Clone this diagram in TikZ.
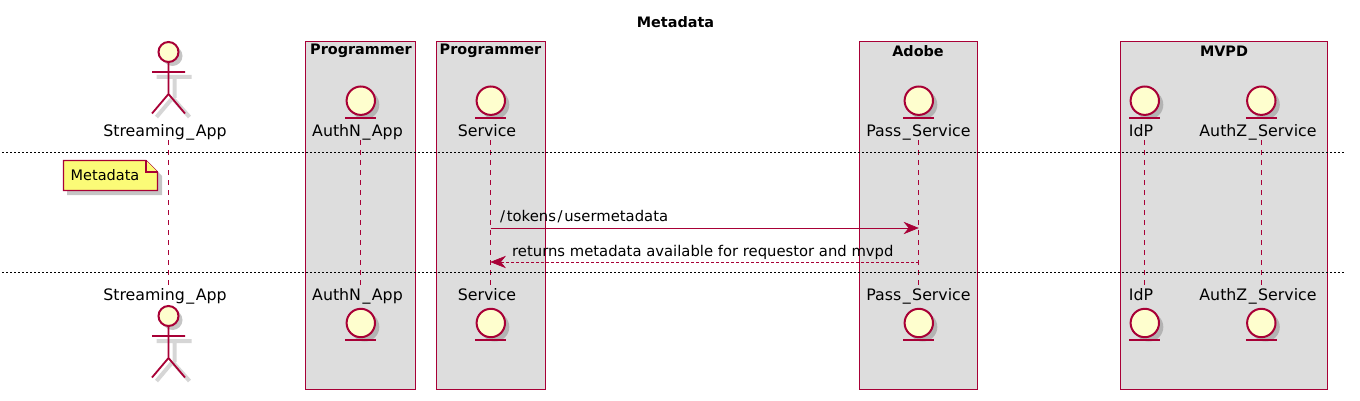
\documentclass[tikz,border=0pt]{standalone}
\usepackage{fontspec}
\setmainfont{DejaVu Sans}
\usetikzlibrary{arrows.meta}
\definecolor{pline}{HTML}{A80036}
\definecolor{pfill}{HTML}{FEFECE}
\definecolor{pbox}{HTML}{DDDDDD}
\definecolor{pnote}{HTML}{FBFB77}
\newcommand{\us}{\kern1.5pt\_\kern1.5pt}
\tikzset{
  x=1pt,y=-1pt,
  grp/.style={draw=pline,fill=pbox,line width=1pt},
  life/.style={draw=pline,line width=1pt,dash pattern=on 5pt off 5pt},
  sep/.style={draw=black,line width=1pt,dash pattern=on 2pt off 2pt},
  pshape/.style={draw=pline,line width=1.8pt},
  pcirc/.style={draw=pline,fill=pfill,line width=2pt},
  shade/.style={draw=black!45,opacity=0.35,line width=4pt},
  shadefill/.style={fill=black!50,opacity=0.45},
  lbl/.style={inner sep=0pt,font=\fontsize{15.8}{18}\selectfont,text=black},
  ttl/.style={inner sep=0pt,font=\fontsize{14.4}{16}\selectfont\bfseries,text=black},
  notelbl/.style={inner sep=0pt,font=\fontsize{14.5}{16}\selectfont,text=black},
  msg/.style={inner sep=0pt,anchor=base west,font=\fontsize{14.8}{16}\selectfont,text=black},
  arrowline/.style={draw=pline,line width=1pt},
  tip/.style={fill=pline,draw=pline,line width=0.6pt},
}
\newcommand{\entityshape}[3]{% x, circle y, underline y
  \fill[shadefill] (#1+4,#2+4) circle[radius=14.5];
  \draw[pcirc] (#1,#2) circle[radius=14.2];
  \draw[draw=pline,line width=2pt] (#1-15.5,#3) -- (#1+15.5,#3);
}
\newcommand{\actorshape}[2]{% x, head y
  \begin{scope}[shift={(#1,#2)}]
  \draw[shade,line cap=butt] (6,24) -- (6,46) (-12,25) -- (23,25) (4,46) -- (-12,65) (4,46) -- (21,65);
  \fill[shadefill] (4,4) circle[radius=10];
  \draw[pcirc] (0,0) circle[radius=10];
  \draw[pshape] (0,10) -- (0,42) (-16.5,20) -- (16.5,20) (0,42) -- (-16.5,61.5) (0,42) -- (16.5,61.5);
  \end{scope}
}
\begin{document}
\begin{tikzpicture}
\useasboundingbox (0,0) rectangle (1360,401);
\fill[white] (0,0) rectangle (1360,401);
\node[ttl] (title) at (675.5,22) {Metadata};

\draw[grp] (305.5,41.5) rectangle (415.5,389) ;
\draw[grp] (436.5,41.5) rectangle (545,389);
\draw[grp] (859,41.5) rectangle (977,389);
\draw[grp] (1120.5,41.5) rectangle (1327,389);
\node[ttl] (g1) at (361,51) {Programmer};
\node[ttl] (g2) at (490.5,51) {Programmer};
\node[ttl] (g3) at (918,51) {Adobe};
\node[ttl] (g4) at (1224,51) {MVPD};

\node[lbl] (a1) at (165,133) {\strut Streaming\us App};
\node[lbl] (a2) at (357.5,133) {\strut AuthN\us App};
\node[lbl] (a3) at (487,133) {\strut Service};
\node[lbl] (a4) at (918.5,133) {\strut Pass\us Service};
\node[lbl] (a5) at (1141,133) {\strut IdP};
\node[lbl] (a6) at (1258,133) {\strut AuthZ\us Service};
\node[lbl] (b1) at (165,297) {\strut Streaming\us App};
\node[lbl] (b2) at (357.5,297) {\strut AuthN\us App};
\node[lbl] (b3) at (487,297) {\strut Service};
\node[lbl] (b4) at (918.5,297) {\strut Pass\us Service};
\node[lbl] (b5) at (1141,297) {\strut IdP};
\node[lbl] (b6) at (1258,297) {\strut AuthZ\us Service};

\coordinate (t1) at (168.5,140); \coordinate (e1) at (168.5,285);
\coordinate (t2) at (360.5,140); \coordinate (e2) at (360.5,285);
\coordinate (t3) at (490.5,140); \coordinate (e3) at (490.5,285);
\coordinate (t4) at (918.5,140); \coordinate (e4) at (918.5,285);
\coordinate (t5) at (1144.5,140); \coordinate (e5) at (1144.5,285);
\coordinate (t6) at (1261,140); \coordinate (e6) at (1261,285);
\foreach \i in {1,...,6} {\draw[life] (t\i) -- (e\i);}

\actorshape{168.5}{52}
\actorshape{168.5}{316}
\entityshape{360.8}{100.7}{118.3}
\entityshape{490.8}{100.7}{118.3}
\entityshape{918.8}{100.7}{118.3}
\entityshape{1144.8}{100.7}{118.3}
\entityshape{1261.3}{100.7}{118.3}
\entityshape{360.8}{323}{340}
\entityshape{490.8}{323}{340}
\entityshape{918.8}{323}{340}
\entityshape{1144.8}{323}{340}
\entityshape{1261.3}{323}{340}

\coordinate (s1) at (2,153); \coordinate (s2) at (1345,153);
\coordinate (s3) at (2,272); \coordinate (s4) at (1345,272);
\draw[sep] (s1) -- (s2);
\draw[sep] (s3) -- (s4);

% note
\fill[black!50,opacity=0.45] (67,164) -- (150,164) -- (162,176) -- (162,195) -- (67,195) -- cycle;
\draw[draw=pline,fill=pnote,line width=1.2pt] (63.5,160.5) -- (146,160.5) -- (157.5,172) -- (157.5,190.5) -- (63.5,190.5) -- cycle;
\draw[draw=pline,line width=1.2pt,fill=pnote] (146,160.5) -- (146,172) -- (157.5,172);
\node[notelbl] (note) at (105,177.5) {\strut Metadata};

% messages
\draw[arrowline] (t3 |- 0,228) -- (910,228);
\filldraw[tip] (918,228) -- (904.5,222.5) -- (909,228) -- (904.5,233.5) -- cycle;
\node[msg] (m1) at (500,221) {/\kern1.7pt tokens\kern1.7pt/\kern1.7pt usermetadata};
\draw[arrowline,dash pattern=on 2.5pt off 2.5pt] (t4 |- 0,262) -- (498,262);
\filldraw[tip] (491,262) -- (505,256.5) -- (500.5,262) -- (505,267.5) -- cycle;
\node[msg] (m2) at (512,256) {returns metadata available for requestor and mvpd};
\end{tikzpicture}
\end{document}
